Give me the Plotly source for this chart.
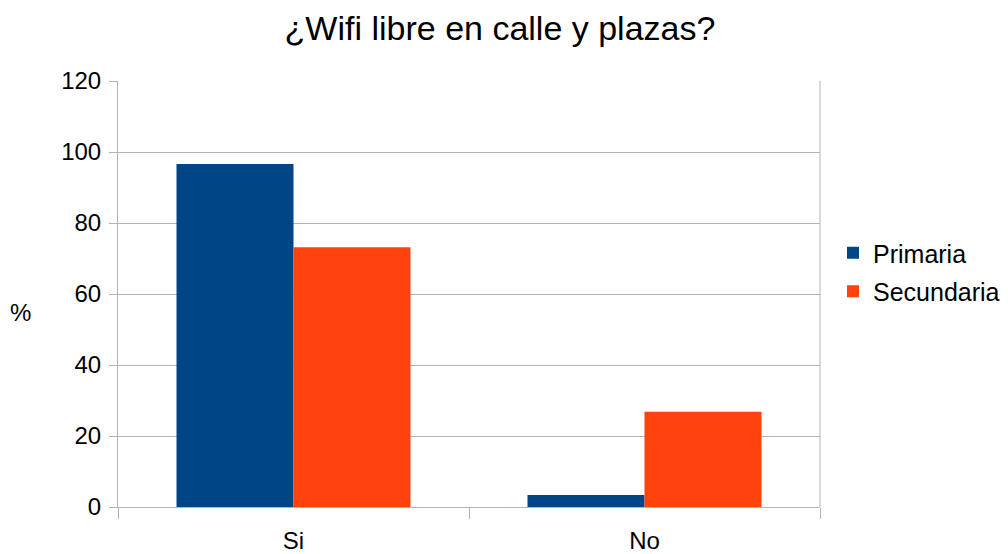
import plotly.graph_objects as go

categories = ["Si", "No"]
primaria = [96.6, 3.4]
secundaria = [73.2, 26.8]
y_ticks = [0, 20, 40, 60, 80, 100, 120]

FONT = "Liberation Sans, Arial, sans-serif"
GRID = "#b3b3b3"

# page has an 8px body margin (screen = figure + 8); figure is wider than the
# window so the legend never forces the margins to grow
W, H = 1040, 546
L, T = 110, 73
R = W - (820 - 8)
B = H - (507 - 8)
PW = W - L - R
PH = H - T - B

fig = go.Figure()
fig.add_trace(go.Bar(x=categories, y=primaria, name="Primaria",
                     marker=dict(color="#004586", line=dict(width=0)),
                     legendgroup="p"))
fig.add_trace(go.Bar(x=categories, y=secundaria, name="Secundaria",
                     marker=dict(color="#ff420e", line=dict(width=0)),
                     legendgroup="s"))

fig.update_layout(
    width=W, height=H,
    margin=dict(l=L, r=R, t=T, b=B, autoexpand=False),
    paper_bgcolor="white", plot_bgcolor="white",
    font=dict(family=FONT, size=24, color="#000000"),
    title=dict(text="¿Wifi libre en calle y plazas?", x=(500 - 8) / W, xanchor="center",
               xref="container", y=1 - 20 / H, yanchor="middle",
               font=dict(size=34, family=FONT, color="#000000")),
    barmode="group", bargap=1/3, bargroupgap=0,
    showlegend=True,
    legend=dict(x=(825 - L) / PW, xanchor="left", y=(H - B - 264) / PH, yanchor="middle",
                font=dict(size=25, family=FONT), tracegroupgap=3,
                bgcolor="rgba(0,0,0,0)"),
    xaxis=dict(showgrid=False, showline=True, linecolor=GRID, linewidth=1,
               ticks="outside", tickson="boundaries", ticklen=11,
               tickcolor=GRID, tickfont=dict(size=24), mirror=False,
               ticklabelstandoff=12, automargin=False),
    yaxis=dict(range=[0, 120], tickvals=y_ticks, showgrid=True,
               gridcolor=GRID, gridwidth=1, showline=True,
               linecolor=GRID, ticks="outside", ticklen=8,
               tickcolor=GRID, tickfont=dict(size=24), zeroline=False,
               ticklabelstandoff=3, automargin=False),
    annotations=[dict(text="%", x=(12 - L) / PW, xref="paper",
                      y=(H - B - 304) / PH, yref="paper", xanchor="center",
                      yanchor="middle", showarrow=False, font=dict(size=24))],
)
fig.add_shape(type="line", xref="paper", yref="paper", x0=1, x1=1, y0=0, y1=1,
              line=dict(color=GRID, width=1))

fig.write_html("out.html")
